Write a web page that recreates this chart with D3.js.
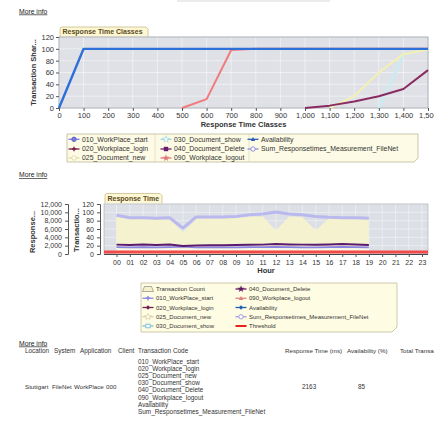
<!DOCTYPE html>
<html><head><meta charset="utf-8">
<script src="https://cdn.jsdelivr.net/npm/d3@7"></script>
<style>
body{margin:0;background:#fff}
svg{display:block;font-family:"Liberation Sans",Arial,sans-serif}
.ax text{fill:#333}
.ax line,.ax path{stroke:#555}
</style>
</head><body><svg id="c" width="434" height="421"></svg>
<script>
// ---------- DATA ----------
// Chart 1: Response Time Classes (cumulative transaction share, %)
const classes = [0,100,200,300,400,500,600,700,800,900,1000,1100,1200,1300,1400,1500];
const shareTicks = [0,20,40,60,80,100,120];
const shareStart  = [0,100,100,100,100,100,100,100,100,100,100,100,100,100,100,100];
const shareLogout = [null,null,null,null,null,0,15,98,100,100,100,100,100,100,100,100];
const shareLogin  = [null,null,null,null,null,null,null,null,null,null,0,4,11,20,32,64];
const shareNew    = [null,null,null,null,null,null,null,null,null,null,null,0,20,60,91,99];
const shareShow   = [null,null,null,null,null,null,null,null,null,null,null,null,null,0,90,100];
const legend1Names = ["010_WorkPlace_start","020_Workplace_login","025_Document_new",
                      "030_Document_show","040_Document_Delete","090_Workplace_logout",
                      "Availability","Sum_Responsetimes_Measurement_FileNet"];

// Chart 2: Response Time per hour
const hourLabels = ["00","01","02","03","04","05","06","07","08","09","10","11","12","13","14","15","16","17","18","19","20","21","22","23"];
const msTicks = [0,2000,4000,6000,8000,10000,12000];
const cntTicks = [0,20,40,60,80,100,120];
const txCount  = [92,85,85,84,85,52,84,86,86,87,90,90,57,90,88,57,86,87,86,84];
const sumResp  = [9300,8700,8700,8600,8700,6200,8900,8900,8900,9000,9400,9600,10100,9600,9400,9000,8800,8700,8700,8600];
const rtLogin  = [2250,2150,2250,2150,2250,1950,2050,2100,2100,2150,2200,2250,2400,2300,2250,2250,2300,2400,2300,2150];
const rtStart  = [1650,1600,1650,1600,1650,1750,1550,1600,1600,1600,1650,1650,1700,1650,1600,1600,1650,1700,1650,1600];
const rtNew    = [1150,1100,1150,1100,1150,1050,1100,1100,1100,1150,1150,1150,1200,1150,1100,1100,1150,1150,1150,1100];
const threshold = [500];
const legend2Names = ["Transaction Count","010_WorkPlace_start","020_Workplace_login","025_Document_new","030_Document_show",
                      "040_Document_Delete","090_Workplace_logout","Availability","Sum_Responsetimes_Measurement_FileNet","Threshold"];

// Table
const tableHeadLeft = ["Location","System","Application","Client","Transaction Code"];
const tableHeadRight = ["Response Time (ms)","Availability (%)","Total Transactions"];
const tableKeys = ["Stuttgart","FileNet","WorkPlace","000"];
const tableCodes = ["010_WorkPlace_start","020_Workplace_login","025_Document_new","030_Document_show",
                    "040_Document_Delete","090_Workplace_logout","Availability","Sum_Responsetimes_Measurement_FileNet"];
const tableValues = ["2163","85"];

// ---------- DRAW ----------
const svg = d3.select("#c");
svg.append("rect").attr("x",177).attr("y",0).attr("width",153).attr("height",2).attr("fill","#ebebeb");

function moreInfo(y){
  svg.append("text").attr("x",19).attr("y",y).attr("font-size",6.8).attr("fill","#222")
    .attr("text-decoration","underline").text("More info");
}
moreInfo(13.5); moreInfo(177); moreInfo(345.5);

function marker(g,type,color,x,y){
  const s = 2.2;
  if(type==="circle") g.append("circle").attr("cx",x).attr("cy",y).attr("r",s).attr("fill",color).attr("stroke",d3.color(color).darker(0.6));
  else if(type==="ocircle") g.append("circle").attr("cx",x).attr("cy",y).attr("r",s).attr("fill","#fff").attr("stroke",color);
  else if(type==="plus"){ g.append("path").attr("d",`M${x-s},${y}H${x+s}M${x},${y-s}V${y+s}`).attr("stroke",color).attr("stroke-width",1.4); }
  else if(type==="diamond") g.append("path").attr("d",`M${x},${y-s}L${x+s},${y}L${x},${y+s}L${x-s},${y}Z`).attr("fill",color);
  else if(type==="square") g.append("rect").attr("x",x-s).attr("y",y-s).attr("width",2*s).attr("height",2*s).attr("fill",color);
  else if(type==="osquare") g.append("rect").attr("x",x-s).attr("y",y-s*0.8).attr("width",2*s).attr("height",1.6*s).attr("fill","#fff").attr("stroke",color);
  else if(type==="tri") g.append("path").attr("d",`M${x},${y-s}L${x+s},${y+s*0.8}L${x-s},${y+s*0.8}Z`).attr("fill",color);
  else if(type==="star") g.append("path").attr("d",d3.symbol(d3.symbolStar,14)()).attr("transform",`translate(${x},${y})`).attr("fill","#fff").attr("stroke",color).attr("stroke-width",0.7);
  else if(type==="fstar") g.append("path").attr("d",d3.symbol(d3.symbolStar,16)()).attr("transform",`translate(${x},${y})`).attr("fill",color);
}
function legendItem(g,x,y,name,color,type,lw,fs){
  if(type==="area"){
    g.append("path").attr("d",`M${x-5.5},${y+2.5}L${x-3.5},${y-2.5}H${x+3.5}L${x+5.5},${y+2.5}Z`).attr("fill","#f4f1cc").attr("stroke","#777").attr("stroke-width",0.6);
  } else {
    g.append("line").attr("x1",x-5.5).attr("x2",x+5.5).attr("y1",y).attr("y2",y).attr("stroke",color).attr("stroke-width",lw||1.3);
    if(type!=="line") marker(g,type,color,x,y);
  }
  g.append("text").attr("x",x+8).attr("y",y+2.2).attr("font-size",fs).attr("fill","#333").text(name);
}
function tab(x,y,w,h,label){
  svg.append("path").attr("d",`M${x},${y+h}V${y+2}Q${x},${y} ${x+2},${y}H${x+w-2}L${x+w},${y+2}V${y+h}`)
    .attr("fill","#fdf7d4").attr("stroke","#c9bd8c").attr("stroke-width",0.8);
  svg.append("text").attr("x",x+2.5).attr("y",y+h-2.6).attr("font-size",7).attr("font-weight","bold").attr("fill","#5b4a22").text(label);
}

// ===== Chart 1 =====
const P1 = {l:59,r:428,t:37,b:108};
const x1 = d3.scaleLinear().domain([0,1500]).range([P1.l,P1.r]);
const y1 = d3.scaleLinear().domain([0,120]).range([P1.b,P1.t]);
tab(60,27,88,10,"Response Time Classes");
svg.append("rect").attr("x",P1.l).attr("y",P1.t).attr("width",P1.r-P1.l).attr("height",P1.b-P1.t).attr("fill","#dfe1e6");
const g1 = svg.append("g");
g1.selectAll(".vg").data(classes).join("line").attr("x1",d=>x1(d)).attr("x2",d=>x1(d)).attr("y1",P1.t).attr("y2",P1.b).attr("stroke","#f1f2f5").attr("stroke-width",0.8);
g1.selectAll(".hg").data(shareTicks).join("line").attr("y1",d=>y1(d)).attr("y2",d=>y1(d)).attr("x1",P1.l).attr("x2",P1.r).attr("stroke","#f1f2f5").attr("stroke-width",0.8);
svg.append("rect").attr("x",P1.l).attr("y",P1.t).attr("width",P1.r-P1.l).attr("height",P1.b-P1.t).attr("fill","none").attr("stroke","#9a9ea6").attr("stroke-width",0.8);

const line1 = d3.line().defined(d=>d!=null).x((d,i)=>x1(classes[i])).y(d=>y1(d));
[[shareShow,"#c4eef6",2],[shareNew,"#f3f0b4",2],[shareLogin,"#8a2c62",2],[shareLogout,"#f27a7e",2],[shareStart,"#2f6fd8",2.4]]
  .forEach(([d,c,w])=>svg.append("path").attr("d",line1(d)).attr("fill","none").attr("stroke",c).attr("stroke-width",w).attr("stroke-linejoin","round"));

svg.append("g").attr("class","ax").attr("transform",`translate(${P1.l},0)`)
  .call(d3.axisLeft(y1).tickValues(shareTicks).tickSize(3).tickPadding(2))
  .call(g=>g.select(".domain").remove()).selectAll("text").attr("font-size",7.5);
svg.append("g").attr("class","ax").attr("transform",`translate(0,${P1.b})`)
  .call(d3.axisBottom(x1).tickValues(classes).tickFormat(d3.format(",")).tickSize(3).tickPadding(2))
  .call(g=>g.select(".domain").remove()).selectAll("text").attr("font-size",7.5);
svg.append("text").attr("x",(P1.l+P1.r)/2).attr("y",127).attr("text-anchor","middle").attr("font-size",7.5).attr("font-weight","bold").attr("fill","#333").text("Response Time Classes");
svg.append("text").attr("transform","translate(35.5,72.5) rotate(-90)").attr("text-anchor","middle").attr("font-size",7.5).attr("font-weight","bold").attr("fill","#333").text("Transaction Shar...");

// Legend 1
const L1 = svg.append("g");
L1.append("path").attr("d","M67,134H418V158L414,162H67Z").attr("fill","#fdfbe5").attr("stroke","#bdb994").attr("stroke-width",0.8);
[155,249].forEach(x=>L1.append("line").attr("x1",x).attr("x2",x).attr("y1",134).attr("y2",162).attr("stroke","#ddd9c0").attr("stroke-width",0.7));
const l1Style = [["#7b7be8","circle"],["#7a1f4a","plus"],["#e4dca0","ocircle"],["#9ed6e4","star"],["#6a1a6a","square"],["#e07878","fstar"],["#2a5cb8","tri"],["#9090d8","ocircle"]];
const l1Pos = [[74,139.3],[74,149],[74,158],[166,139.3],[166,149],[166,158],[253,139.3],[253,149]];
legend1Names.forEach((n,i)=>legendItem(L1,l1Pos[i][0],l1Pos[i][1],n,l1Style[i][0],l1Style[i][1],1.3,6.9));

// ===== Chart 2 =====
const P2 = {l:104,r:428,t:204,b:254};
const x2 = d3.scaleLinear().domain([0,23]).range([116.5,422]);
const yMs = d3.scaleLinear().domain([0,12000]).range([P2.b,P2.t]);
const yCnt = d3.scaleLinear().domain([0,120]).range([P2.b,P2.t]);
tab(105,193.5,57,10,"Response Time");
svg.append("rect").attr("x",P2.l).attr("y",P2.t).attr("width",P2.r-P2.l).attr("height",P2.b-P2.t).attr("fill","#dcdfe5");
const g2 = svg.append("g");
g2.selectAll(".vg").data(hourLabels).join("line").attr("x1",(d,i)=>x2(i)).attr("x2",(d,i)=>x2(i)).attr("y1",P2.t).attr("y2",P2.b).attr("stroke","#eef0f3").attr("stroke-width",0.8);
g2.selectAll(".hg").data(cntTicks).join("line").attr("y1",d=>yCnt(d)).attr("y2",d=>yCnt(d)).attr("x1",P2.l).attr("x2",P2.r).attr("stroke","#eef0f3").attr("stroke-width",0.8);
svg.append("rect").attr("x",P2.l).attr("y",P2.t).attr("width",P2.r-P2.l).attr("height",P2.b-P2.t).attr("fill","none").attr("stroke","#a4a8b0").attr("stroke-width",0.6);

svg.append("path").attr("d",d3.area().x((d,i)=>x2(i)).y0(yCnt(0)).y1(d=>yCnt(d))(txCount)).attr("fill","#f4f2cf");
const lineH = d3.line().x((d,i)=>x2(i)).y(d=>yMs(d));
svg.append("path").attr("d",lineH(sumResp)).attr("fill","none").attr("stroke","#b9b9ee").attr("stroke-width",3).attr("stroke-linejoin","round");
svg.append("path").attr("d",lineH(rtNew)).attr("fill","none").attr("stroke","#f6f6ec").attr("stroke-width",1.6);
svg.append("path").attr("d",lineH(rtStart)).attr("fill","none").attr("stroke","#8c84e4").attr("stroke-width",1.6);
svg.append("path").attr("d",lineH(rtLogin)).attr("fill","none").attr("stroke","#5a1a72").attr("stroke-width",2);
svg.selectAll(".thr").data(threshold).join("line").attr("x1",P2.l).attr("x2",P2.r).attr("y1",d=>yMs(d)).attr("y2",d=>yMs(d)).attr("stroke","#f24a4a").attr("stroke-width",3);
svg.append("line").attr("x1",P2.l).attr("x2",P2.r).attr("y1",P2.b+0.5).attr("y2",P2.b+0.5).attr("stroke","#3f4a52").attr("stroke-width",1);

svg.append("g").attr("class","ax").attr("transform","translate(68,0)")
  .call(d3.axisLeft(yMs).tickValues(msTicks).tickFormat(d3.format(",")).tickSize(3).tickPadding(3))
  .selectAll("text").attr("font-size",7);
svg.append("g").attr("class","ax").attr("transform","translate(100,0)")
  .call(d3.axisLeft(yCnt).tickValues(cntTicks).tickSize(3).tickPadding(3))
  .selectAll("text").attr("font-size",7);
svg.append("g").attr("class","ax").attr("transform",`translate(0,${P2.b})`)
  .call(d3.axisBottom(x2).tickValues(d3.range(hourLabels.length)).tickFormat(i=>hourLabels[i]).tickSize(3).tickPadding(3))
  .call(g=>g.select(".domain").remove()).selectAll("text").attr("font-size",7);
svg.append("text").attr("x",(P2.l+P2.r)/2).attr("y",273).attr("text-anchor","middle").attr("font-size",7.5).attr("font-weight","bold").attr("fill","#333").text("Hour");
svg.append("text").attr("transform","translate(35,232) rotate(-90)").attr("text-anchor","middle").attr("font-size",7.5).attr("font-weight","bold").attr("fill","#333").text("Response...");
svg.append("text").attr("transform","translate(78.5,230) rotate(-90)").attr("text-anchor","middle").attr("font-size",7.5).attr("font-weight","bold").attr("fill","#333").text("Transactio...");

// Legend 2
const L2 = svg.append("g");
L2.append("path").attr("d","M141,283H397V327L392,332H141Z").attr("fill","#fffce4").attr("stroke","#c0bc98").attr("stroke-width",0.8);
const l2Style = [["#f4f1cc","area"],["#8888e8","plus"],["#702050","diamond"],["#d8d0a0","star"],["#80c0d8","osquare"],
                 ["#601860","fstar"],["#e08080","tri"],["#2060b0","diamond"],["#a0a0e0","ocircle"],["#e82020","line"]];
legend2Names.forEach((n,i)=>{
  const col = Math.floor(i/5), row = i%5;
  legendItem(L2, col===0?148:241, 289+row*9.25, n, l2Style[i][0], l2Style[i][1], l2Style[i][1]==="line"?2:1.3, 6.0);
});

// Table
const T = svg.append("g").attr("font-size",6.4).attr("fill","#333");
const headX = [25,54,80,118,138];
tableHeadLeft.forEach((t,i)=>T.append("text").attr("x",headX[i]).attr("y",352.5).text(t));
const headRX = [285,347,400];
tableHeadRight.forEach((t,i)=>T.append("text").attr("x",headRX[i]).attr("y",352.5).attr("font-size",6.2).text(t));
const keyX = [25,52,74,106];
tableKeys.forEach((t,i)=>T.append("text").attr("x",keyX[i]).attr("y",389).attr("font-size",6.2).text(t));
tableCodes.forEach((t,i)=>T.append("text").attr("x",138).attr("y",364+i*7.1).text(t));
const valX = [302,358];
tableValues.forEach((t,i)=>T.append("text").attr("x",valX[i]).attr("y",389).text(t));
</script>
</body></html>
